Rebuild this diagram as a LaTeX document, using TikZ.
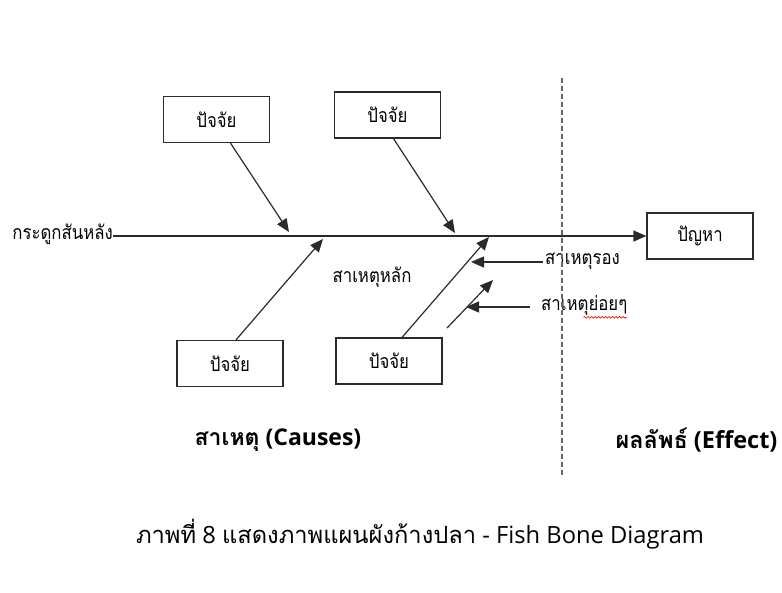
\documentclass[tikz,border=0pt]{standalone}
\usepackage{fontspec}
\setmainfont{Open Sans}
\newfontfamily\thaifont[Script=Thai]{Loma}
\newfontfamily\thaicond[Script=Thai,FakeStretch=0.86]{Loma}
\usetikzlibrary{arrows.meta,decorations.pathmorphing}
\definecolor{ink}{HTML}{2B2B2B}
\tikzset{
  box/.style={draw=ink, line width=1.2pt, minimum width=106pt, minimum height=46pt, inner sep=0pt, font=\thaicond\fontsize{19.5}{21}\selectfont},
  lbl/.style={inner sep=0pt, font=\thaicond\fontsize{19.5}{21}\selectfont},
  bone/.style={draw=ink, line width=1.2pt, -{Triangle[length=13pt,width=11pt]}},
  bigl/.style={inner sep=0pt, font=\fontsize{23}{27}\selectfont\bfseries},
}
\begin{document}
\begin{tikzpicture}[x=1pt,y=-1pt]
\useasboundingbox (0,0) rectangle (782,592);
% boxes
\node[box] (f1) at (216.5,119.5) {ปัจจัย};
\node[box] (f2) at (387.5,115) {ปัจจัย};
\node[box] (f3) at (230,363.5) {ปัจจัย};
\node[box] (f4) at (389,361) {ปัจจัย};
\node[box] (prob) at (700,236) {ปัญหา};
% spine
\node[lbl, anchor=east] (spine) at (113,234) {กระดูกสันหลัง};
\draw[bone] (spine.east |- prob.west) -- (prob.west);
% tips
\coordinate (t1) at (289,232);
\coordinate (t2) at (455,233);
\coordinate (t3) at (323,239);
\coordinate (t4) at (489,237);
\draw[bone] ([xshift=14pt]f1.south) -- (t1);
\draw[bone] ([xshift=6pt]f2.south) -- (t2);
\draw[bone] ([xshift=6pt]f3.north) -- (t3);
\draw[bone] ([xshift=13pt]f4.north) -- (t4);
% small bone
\coordinate (s0) at (447,328);
\coordinate (s1) at (493,280);
\draw[bone] (s0) -- (s1);
% labels
\node[lbl] (main) at (372,277) {สาเหตุหลัก};
\node[lbl, anchor=west] (sec) at (545,261) {สาเหตุรอง};
\node[lbl, anchor=west] (sub) at (541,305) {สาเหตุย่อยๆ};
\coordinate (secend) at (471,262);
\coordinate (subend) at (466,307);
\draw[bone] ([xshift=-2pt]sec.west |- secend) -- (secend);
\draw[bone] ([xshift=-11pt]sub.west |- subend) -- (subend);
\draw[red, line width=0.6pt, decorate, decoration={snake, amplitude=0.9pt, segment length=3.5pt}] ([xshift=-44pt,yshift=-2pt]sub.south east) -- ([yshift=-2pt]sub.south east);
% divider
\coordinate (dtop) at (562,78);
\coordinate (dbot) at (562,475);
\draw[gray!80!black, line width=1.2pt, dash pattern=on 5pt off 3pt] (dtop) -- (dbot);
% section titles
\node[bigl] (causes) at (278,440) {{\thaifont\bfseries สาเหตุ} (Causes)};
\node[bigl, font=\fontsize{23.5}{27}\selectfont\bfseries] (effect) at (696.5,440) {{\thaifont\bfseries ผลลัพธ์} (Effect)};
% caption
\node[inner sep=0pt, font=\fontsize{23.7}{28}\selectfont] (cap) at (420,534) {{\thaifont ภาพที่} 8 {\thaifont แสดงภาพแผนผังก้างปลา} - Fish Bone Diagram};
\end{tikzpicture}
\end{document}
